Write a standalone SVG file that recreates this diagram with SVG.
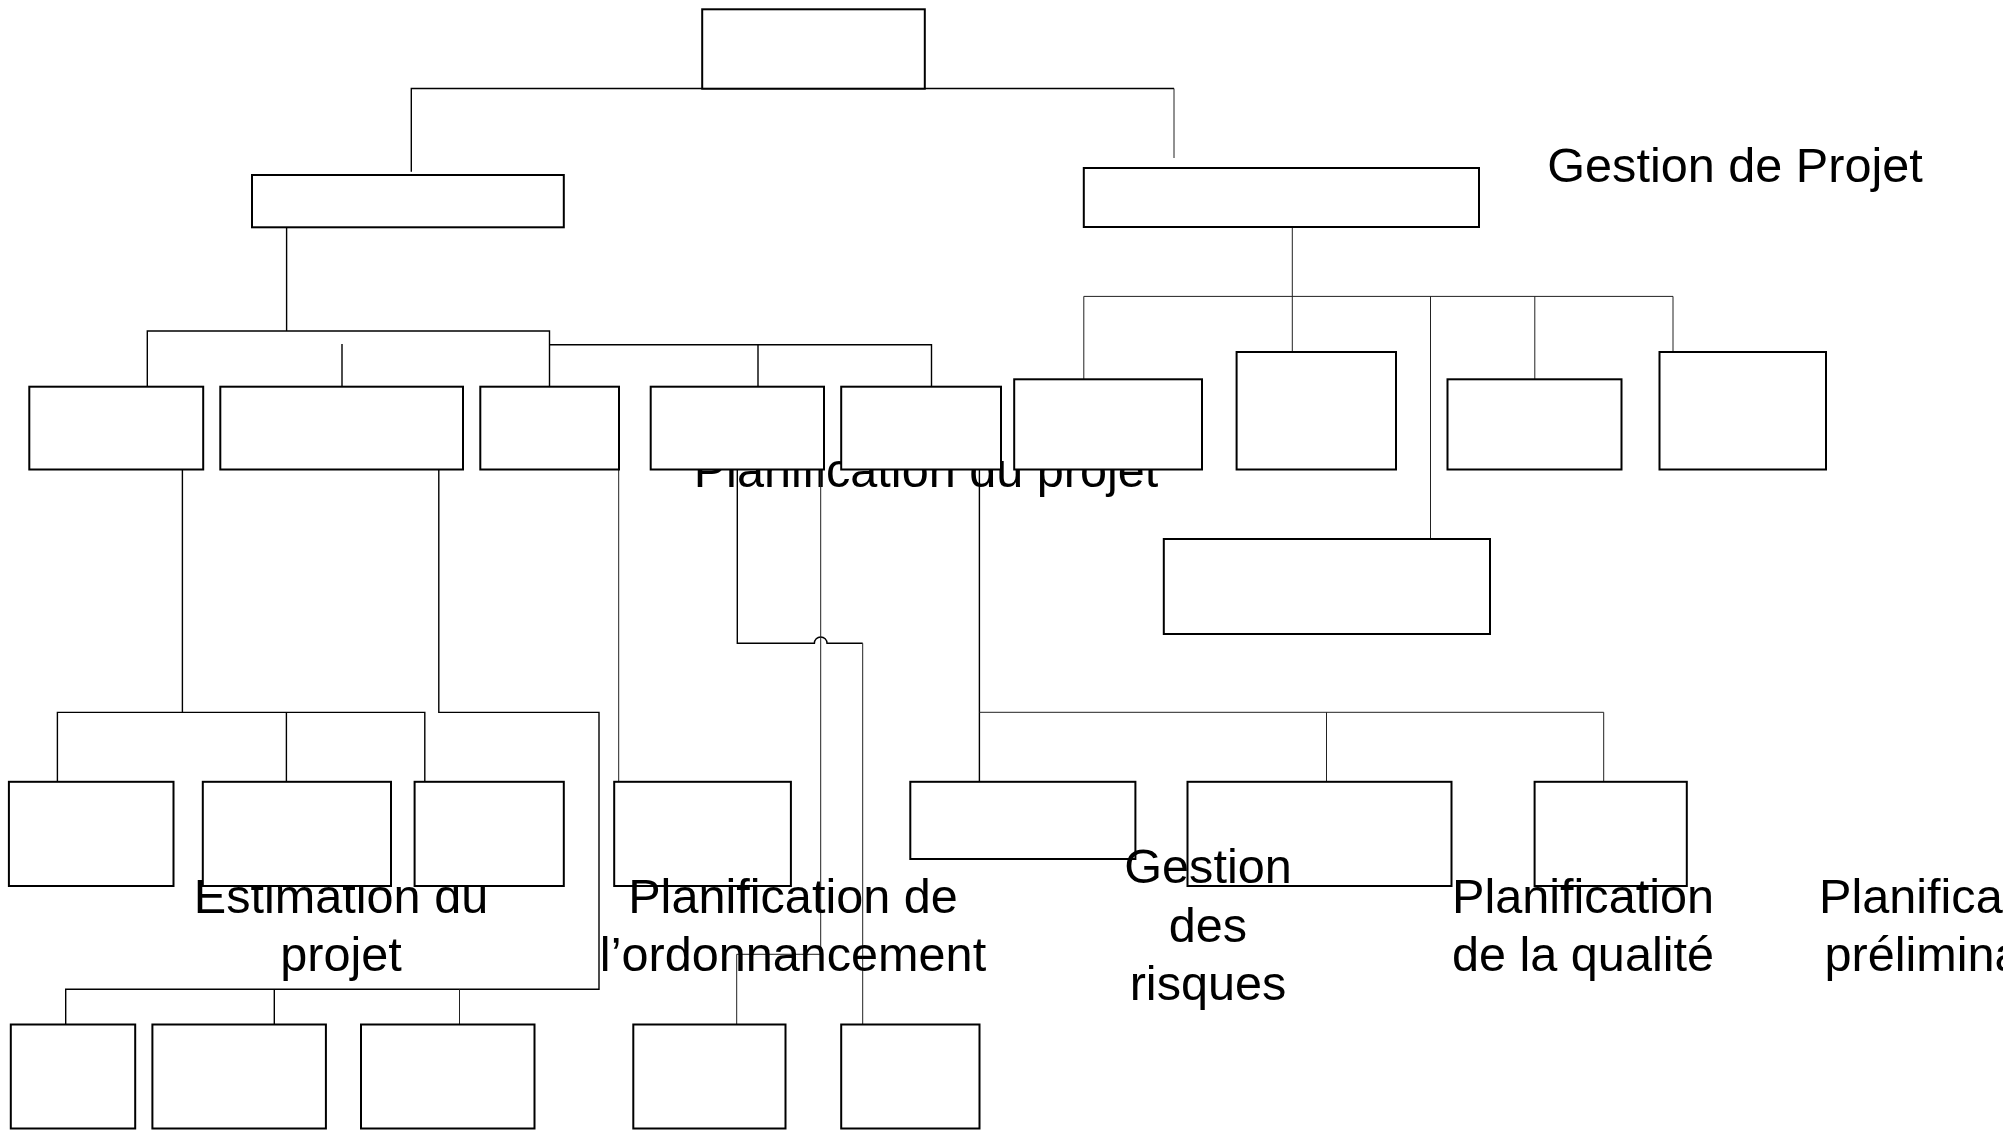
<svg xmlns="http://www.w3.org/2000/svg" width="2003" height="1130" viewBox="0 0 2003 1130">
  <style>
    .box { fill: #fff; stroke: #000; stroke-width: 2; }
    .wire { fill: none; stroke: #000; stroke-width: 1.4; }
    .thin { fill: none; stroke: #222; stroke-width: 1; }
    .lbl { font-family: "Liberation Sans", Arial, sans-serif; font-size: 48.6px; fill: #000; text-anchor: middle; }
  </style>
  <rect x="0" y="0" width="2003" height="1130" fill="#fff"/>

  <!-- labels that sit behind the boxes -->
  <g id="labels-back">
    <text class="lbl" x="926" y="487">Planification du projet</text>
    <text class="lbl" x="341" y="913">Estimation du</text>
    <text class="lbl" x="341" y="971">projet</text>
  </g>

  <!-- connectors -->
  <g id="connectors">
    <!-- root to level 2 -->
    <path class="wire" d="M411.3,171.7 V88.5 H1174"/>
    <path class="thin" d="M1174,88.5 V158"/>
    <!-- left branch to level 3 -->
    <path class="wire" d="M286.6,227.3 V331"/>
    <path class="wire" d="M147.3,386.7 V331 H549.5 V386.7"/>
    <path class="wire" d="M342,344 V386.7"/>
    <path class="wire" d="M549.5,344.7 H931.5 V386.7"/>
    <path class="wire" d="M758,344.7 V386.7"/>
    <!-- right branch to level 3 -->
    <path class="thin" d="M1292.3,227 V352"/>
    <path class="thin" d="M1083.8,379.3 V296.4 H1673 V352"/>
    <path class="thin" d="M1430.5,296.4 V539"/>
    <path class="thin" d="M1534.8,296.4 V379.3"/>
    <!-- estimation subtree -->
    <path class="wire" d="M182.4,469.5 V712.4"/>
    <path class="wire" d="M57.4,781.8 V712.4 H424.8 V781.8"/>
    <path class="wire" d="M286.4,712.4 V781.8"/>
    <path class="wire" d="M438.8,469.5 V712.4 H599 V989.3 H65.7 V1024.5"/>
    <path class="wire" d="M274.3,989.3 V1024.5"/>
    <path class="thin" d="M459.5,989.3 V1024.5"/>
    <!-- scheduling subtree -->
    <path class="thin" d="M618.7,469.5 V781.8"/>
    <path class="wire" d="M737.3,469.5 V643.3 H814.4 A6.3,6.3 0 0 1 827,643.3 H862.7"/>
    <path class="thin" d="M862.7,643.3 V1024.5"/>
    <path class="thin" d="M820.7,469.5 V954.3 H736.7 V1024.5"/>
    <!-- risk / quality subtree -->
    <path class="wire" d="M979.4,469.5 V781.8"/>
    <path class="thin" d="M979.4,712.3 H1603.7 V781.8"/>
    <path class="thin" d="M1326.5,712.3 V781.8"/>
  </g>

  <!-- level 1 -->
  <g id="n-root"><rect class="box" x="702.2" y="9.3" width="222.6" height="79.4"/></g>

  <!-- level 2 -->
  <g id="n-l2-left"><rect class="box" x="252" y="175" width="311.8" height="52.3"/></g>
  <g id="n-l2-right"><rect class="box" x="1083.8" y="168" width="395.2" height="59"/></g>

  <!-- level 3 -->
  <g id="n-a"><rect class="box" x="29.3" y="386.7" width="173.9" height="82.8"/></g>
  <g id="n-b"><rect class="box" x="220.3" y="386.7" width="242.7" height="82.8"/></g>
  <g id="n-c"><rect class="box" x="480.3" y="386.7" width="138.7" height="82.8"/></g>
  <g id="n-d"><rect class="box" x="650.7" y="386.7" width="173.3" height="82.8"/></g>
  <g id="n-e"><rect class="box" x="841.2" y="386.7" width="159.8" height="82.8"/></g>
  <g id="n-f"><rect class="box" x="1014.2" y="379.3" width="187.8" height="90.2"/></g>
  <g id="n-g"><rect class="box" x="1236.6" y="352" width="159.4" height="117.5"/></g>
  <g id="n-h"><rect class="box" x="1447.5" y="379.3" width="174" height="90.2"/></g>
  <g id="n-i"><rect class="box" x="1659.5" y="352" width="166.5" height="117.5"/></g>
  <g id="n-j"><rect class="box" x="1163.8" y="539" width="326.2" height="95"/></g>

  <!-- level 4 -->
  <g id="n-k1"><rect class="box" x="8.9" y="781.8" width="164.6" height="104.2"/></g>
  <g id="n-k2"><rect class="box" x="202.8" y="781.8" width="188.2" height="104.2"/></g>
  <g id="n-k3"><rect class="box" x="414.6" y="781.8" width="149.2" height="104.2"/></g>
  <g id="n-k4"><rect class="box" x="614.2" y="781.8" width="176.7" height="104.2"/></g>
  <g id="n-k5"><rect class="box" x="910.3" y="781.8" width="225.1" height="77.2"/></g>
  <g id="n-k6"><rect class="box" x="1187.5" y="781.8" width="264" height="104.2"/></g>
  <g id="n-k7"><rect class="box" x="1534.6" y="781.8" width="152.2" height="104.2"/></g>

  <!-- level 5 -->
  <g id="n-m1"><rect class="box" x="10.8" y="1024.5" width="124.4" height="104"/></g>
  <g id="n-m2"><rect class="box" x="152.4" y="1024.5" width="173.5" height="104"/></g>
  <g id="n-m3"><rect class="box" x="361" y="1024.5" width="173.5" height="104"/></g>
  <g id="n-m4"><rect class="box" x="633.3" y="1024.5" width="152.2" height="104"/></g>
  <g id="n-m5"><rect class="box" x="841.2" y="1024.5" width="138.3" height="104"/></g>

  <!-- labels drawn over the boxes -->
  <g id="labels-front">
    <text class="lbl" x="1735" y="182">Gestion de Projet</text>
    <text class="lbl" x="793" y="913">Planification de</text>
    <text class="lbl" x="793" y="971">l’ordonnancement</text>
    <text class="lbl" x="1208" y="883">Gestion</text>
    <text class="lbl" x="1208" y="941.5">des</text>
    <text class="lbl" x="1208" y="1000">risques</text>
    <text class="lbl" x="1583" y="913">Planification</text>
    <text class="lbl" x="1583" y="971">de la qualité</text>
    <text class="lbl" x="1950" y="913">Planification</text>
    <text class="lbl" x="1950" y="971">préliminaire</text>
  </g>
</svg>
